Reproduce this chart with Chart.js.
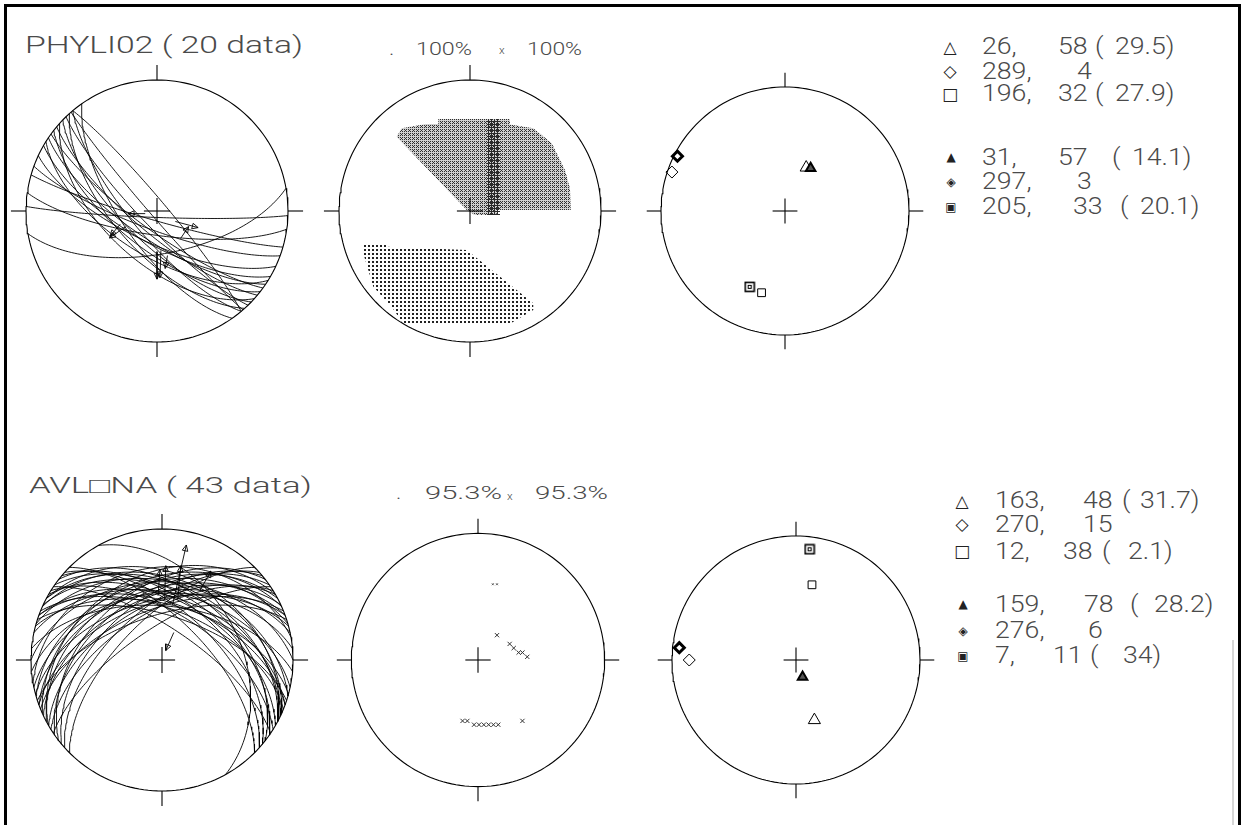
<!DOCTYPE html>
<html lang="en">
<head>
<meta charset="UTF-8" />
<title>Fault slip data - PHYLI02 / AVLONA</title>
<script src="https://cdn.jsdelivr.net/npm/chart.js"></script>
<style>
  * { box-sizing: border-box; }
  body {
    margin: 0;
    width: 1248px;
    height: 825px;
    background: #fff;
    position: relative;
    overflow: hidden;
    font-family: Roboto, 'DejaVu Sans', sans-serif;
  }
  .frame {
    position: absolute;
    left: 4px;
    top: 4px;
    width: 1237px;
    height: 900px;
    border: 3px solid #000;
    border-bottom: none;
  }
  .net { position: absolute; width: 300px; height: 300px; }
  .lbl {
    position: absolute;
    white-space: pre;
    color: #4a4a4a;
    font-weight: 300;
    line-height: 1;
    transform-origin: 0 50%;
  }
  .mk {
    position: absolute;
    line-height: 1;
    color: #222;
    font-family: 'DejaVu Sans', sans-serif;
    transform: translate(-50%, -50%);
  }
  .scan { position: absolute; left: 1232px; top: 640px; width: 2px; height: 185px; background: #d6d6d6; }
</style>
</head>
<body>
<div class="frame"></div>
<div class="scan"></div>

<script>
  // ---------- PHYLI02 ----------
  const phyName = 'PHYLI02';
  // fault planes: [dip direction, dip]
  const phyPlanes = [
    [214, 72], [218, 66], [220, 76], [224, 70], [226, 80], [212, 62], [230, 74],
    [216, 78], [228, 64], [210, 70], [222, 58], [229, 86], [182, 86], [196, 84],
    [200, 78], [170, 63], [205, 70], [188, 75], [50, 84], [235, 68]
  ];
  // slip arrows: [u, v, azimuth, length] in net units
  const phyArrows = [
    [-0.09, -0.02, 270, 0.13], [-0.24, -0.12, 235, 0.15], [-0.28, -0.10, 220, 0.12],
    [0.14, -0.08, 105, 0.18], [0.18, -0.21, 34, 0.11], [0.00, -0.31, 180, 0.21],
    [0.03, -0.30, 182, 0.21], [0.08, -0.34, 190, 0.10]
  ];
  const phyPct = [100, 100];
  // compatible areas (outlines in net units)
  const phyTArea = [
    [-0.242, 0.702], [0.305, 0.702], [0.305, 0.66], [0.483, 0.631], [0.624, 0.517],
    [0.725, 0.313], [0.763, 0.173], [0.769, 0.008], [0.204, 0.008], [0.204, -0.031],
    [0.038, -0.031], [-0.025, 0.008], [-0.560, 0.567], [-0.521, 0.631], [-0.336, 0.664],
    [-0.242, 0.664], [-0.242, 0.702]
  ];
  const phyTCore = [[0.130, 0.702], [0.229, 0.702], [0.229, -0.031], [0.130, -0.031], [0.130, 0.702]];
  const phyPArea = [
    [-0.827, -0.247], [-0.636, -0.247], [-0.636, -0.273], [-0.025, -0.298], [0.483, -0.705],
    [0.483, -0.756], [0.305, -0.860], [-0.509, -0.860], [-0.598, -0.731], [-0.738, -0.578],
    [-0.815, -0.323], [-0.827, -0.247]
  ];
  // axes: [trend, plunge] and value
  const phyAxes = [[26, 58], [289, 4], [196, 32]];
  const phyAxesVal = [29.5, null, 27.9];
  const phyMeans = [[31, 57], [297, 3], [205, 33]];
  const phyMeansVal = [14.1, null, 20.1];

  // ---------- AVLONA ----------
  const avlName = 'AVL\u25A1NA';
  const avlPlanes = [
    [335, 50], [340, 45], [330, 55], [345, 52], [325, 48], [338, 58], [332, 42], [342, 62],
    [328, 60], [336, 38], [320, 52], [348, 47], [326, 70], [322, 44], [340, 54], [318, 58],
    [344, 40], [330, 35], [315, 64],
    [20, 50], [25, 45], [15, 55], [30, 52], [35, 48], [22, 58], [28, 42], [18, 62],
    [32, 60], [24, 38], [40, 52], [12, 47], [34, 70], [38, 44], [20, 54], [42, 58],
    [16, 40], [28, 35], [45, 64],
    [0, 40], [355, 48], [5, 56], [61, 40], [350, 30]
  ];
  const avlArrows = [
    [0.08, 0.42, 13, 0.47], [0.02, 0.46, 2, 0.26], [0.12, 0.46, 5, 0.26],
    [0.29, 0.53, 29, 0.17], [0.09, 0.21, 204, 0.15], [-0.03, 0.49, 4, 0.20]
  ];
  const avlPct = [95.3, 95.3];
  const avlTPts = [
    [0.150, 0.196], [0.250, 0.127], [0.282, 0.094], [0.321, 0.059], [0.351, 0.059],
    [0.389, 0.025], [0.351, -0.481], [-0.122, -0.481], [-0.084, -0.481], [-0.031, -0.511],
    [0.008, -0.511], [0.046, -0.511], [0.084, -0.511], [0.122, -0.511], [0.160, -0.511]
  ];
  const avlTSmall = [[0.117, 0.598], [0.150, 0.598]];
  const avlAxes = [[163, 48], [270, 15], [12, 38]];
  const avlAxesVal = [31.7, null, 2.1];
  const avlMeans = [[159, 78], [276, 6], [7, 11]];
  const avlMeansVal = [28.2, null, 34];

  // ---------- layout ----------
  const D2R = Math.PI / 180;
  const R = 131;
  const HALF = 150 / R;
  const LS = 1.16;   // horizontal stretch of the plotter lettering

  function proj(trend, plunge) {
    const rho = Math.SQRT2 * Math.sin((90 - plunge) * D2R / 2);
    return { x: rho * Math.sin(trend * D2R), y: rho * Math.cos(trend * D2R) };
  }

  function greatCircle(dd, dip) {
    const s = (dd - 90) * D2R, d = dd * D2R, dp = dip * D2R;
    const sv = [Math.cos(s), Math.sin(s), 0];
    const dv = [Math.cos(dp) * Math.cos(d), Math.cos(dp) * Math.sin(d), Math.sin(dp)];
    const pts = [];
    for (let a = 0; a <= 180; a += 2) {
      const ca = Math.cos(a * D2R), sa = Math.sin(a * D2R);
      const n = ca * sv[0] + sa * dv[0];
      const e = ca * sv[1] + sa * dv[1];
      const z = sa * dv[2];
      pts.push(proj(Math.atan2(e, n) / D2R, Math.asin(Math.min(1, z)) / D2R));
    }
    return pts;
  }

  const ink = { borderColor: '#000', borderWidth: 1.1, pointRadius: 0, fill: false };

  function frameSets() {
    const circ = [];
    for (let a = 0; a <= 360; a += 2) circ.push({ x: Math.sin(a * D2R), y: Math.cos(a * D2R) });
    const T = 1.115, C = 0.1;
    const seg = (x1, y1, x2, y2) => ({ data: [{ x: x1, y: y1 }, { x: x2, y: y2 }], ...ink });
    return [
      { data: circ, ...ink },
      seg(0, 1, 0, T), seg(0, -1, 0, -T), seg(1, 0, T, 0), seg(-1, 0, -T, 0),
      seg(-C, 0, C, 0), seg(0, -C, 0, C)
    ];
  }

  function arrowSet([u, v, az, len]) {
    const a = az * D2R, h = 0.05;
    const tip = { x: u + len * Math.sin(a), y: v + len * Math.cos(a) };
    const b1 = { x: tip.x - h * Math.sin(a + 0.45), y: tip.y - h * Math.cos(a + 0.45) };
    const b2 = { x: tip.x - h * Math.sin(a - 0.45), y: tip.y - h * Math.cos(a - 0.45) };
    return { data: [{ x: u, y: v }, tip, b1, b2, tip], ...ink, borderWidth: 0.9 };
  }

  function planeSets(planes) {
    return planes.map(([dd, dip]) => ({ data: greatCircle(dd, dip), ...ink, borderWidth: 0.9 }));
  }

  function pattern(size, draw) {
    const c = document.createElement('canvas');
    c.width = c.height = size;
    const g = c.getContext('2d');
    draw(g);
    return g.createPattern(c, 'repeat');
  }
  const crossFill = pattern(4, g => {
    g.fillStyle = '#cfcfcf';
    g.fillRect(0, 0, 4, 4);
    g.fillStyle = '#2e2e2e';
    [[0, 0], [2, 0], [1, 1], [0, 2], [2, 2]].forEach(([x, y]) => g.fillRect(x, y, 1, 1));
  });
  const coreFill = pattern(3, g => {
    g.fillStyle = '#2a2a2a';
    g.fillRect(0, 0, 3, 1);
    g.fillRect(0, 0, 1, 3);
  });
  const dotFill = pattern(4, g => {
    g.fillStyle = '#222';
    g.fillRect(0, 0, 2, 2);
  });

  const area = (pts, fillStyle) => ({
    data: pts.map(([x, y]) => ({ x, y })),
    borderWidth: 0, borderColor: 'rgba(0,0,0,0)', pointRadius: 0,
    backgroundColor: fillStyle, fill: 'shape'
  });

  function squareMark() {
    const c = document.createElement('canvas');
    c.width = c.height = 12;
    const g = c.getContext('2d');
    g.fillStyle = '#fff'; g.fillRect(1, 1, 10, 10);
    g.strokeStyle = '#000'; g.lineWidth = 1.6; g.strokeRect(1.5, 1.5, 9, 9);
    g.lineWidth = 1; g.strokeRect(4.5, 4.5, 3, 3);
    return c;
  }

  function axisSets(axes, means) {
    const styles = [
      ['triangle', 7, '#fff', 1], ['rectRot', 6, '#fff', 1], ['rect', 5.5, '#fff', 1]
    ];
    const filled = [
      ['triangle', 5.5, '#555', 2], ['rectRot', 5, '#fff', 3], [squareMark(), 6, '#fff', 1]
    ];
    const out = [];
    means.forEach((m, i) => {
      const [ps, r, bg, bw] = filled[i];
      out.push({ data: [proj(m[0], m[1])], showLine: false, pointStyle: ps, pointRadius: r,
        pointBackgroundColor: bg, pointBorderColor: '#000', pointBorderWidth: bw });
    });
    axes.forEach((a, i) => {
      const [ps, r, bg, bw] = styles[i];
      out.push({ data: [proj(a[0], a[1])], showLine: false, pointStyle: ps, pointRadius: r,
        pointBackgroundColor: bg, pointBorderColor: '#000', pointBorderWidth: bw });
    });
    return out;
  }

  function makeNet(cx, cy, sets) {
    const box = document.createElement('div');
    box.className = 'net';
    box.style.left = (cx - 150) + 'px';
    box.style.top = (cy - 150) + 'px';
    const cv = document.createElement('canvas');
    box.appendChild(cv);
    document.body.appendChild(box);
    new Chart(cv, {
      type: 'line',
      data: { datasets: [...frameSets(), ...sets] },
      options: {
        responsive: true,
        maintainAspectRatio: false,
        animation: false,
        events: [],
        layout: { padding: 0 },
        plugins: { legend: { display: false }, tooltip: { enabled: false } },
        scales: {
          x: { type: 'linear', min: -HALF, max: HALF, display: false },
          y: { type: 'linear', min: -HALF, max: HALF, display: false }
        },
        elements: { line: { tension: 0 } }
      }
    });
  }

  // ---------- nets ----------
  makeNet(157, 211, [...phyArrows.map(arrowSet), ...planeSets(phyPlanes)]);
  makeNet(470, 211, [area(phyTCore, coreFill), area(phyTArea, crossFill), area(phyPArea, dotFill)]);
  makeNet(785, 211, axisSets(phyAxes, phyMeans));

  makeNet(162, 660, [...avlArrows.map(arrowSet), ...planeSets(avlPlanes)]);
  makeNet(478, 660, [
    { data: avlTPts.map(([x, y]) => ({ x, y })), showLine: false, pointStyle: 'crossRot',
      pointRadius: 3, pointBorderColor: '#333', pointBorderWidth: 1 },
    { data: avlTSmall.map(([x, y]) => ({ x, y })), showLine: false, pointStyle: 'crossRot',
      pointRadius: 1.3, pointBorderColor: '#555', pointBorderWidth: 1 }
  ]);
  makeNet(796, 660, axisSets(avlAxes, avlMeans));

  // ---------- lettering ----------
  const fits = [];
  function label(text, left, cy, size, width) {
    const el = document.createElement('div');
    el.className = 'lbl';
    el.textContent = text;
    el.style.left = left + 'px';
    el.style.top = (cy - size / 2) + 'px';
    el.style.fontSize = size + 'px';
    document.body.appendChild(el);
    if (width) fits.push([el, width]);
    else el.style.transform = `scaleX(${LS})`;
    return el;
  }
  function marker(ch, x, cy, size) {
    const el = document.createElement('div');
    el.className = 'mk';
    el.textContent = ch;
    el.style.left = x + 'px';
    el.style.top = cy + 'px';
    el.style.fontSize = size + 'px';
    document.body.appendChild(el);
  }

  label(`${phyName} ( ${phyPlanes.length} data)`, 25, 45.5, 23, 278);
  label('.', 389, 48.5, 19);
  label(`${phyPct[0]}%`, 416, 48.5, 19, 56);
  label('x', 499, 50.5, 10);
  label(`${phyPct[1]}%`, 527, 48.5, 19, 55);

  label(`${avlName} ( ${avlPlanes.length} data)`, 29, 486, 22, 283);
  label('.', 396, 492, 19);
  label(`${avlPct[0]}%`, 425, 492, 19, 77);
  label('x', 507, 497, 10);
  label(`${avlPct[1]}%`, 535, 492, 19, 73);

  // legend rows: value arrays above, positions here
  const openGlyphs = ['\u25B3', '\u25C7', '\u25A1'];
  const fillGlyphs = ['\u25B2', '\u25C8', '\u25A3'];
  function legendBlock(axes, vals, glyphs, gsize, mx, rows) {
    axes.forEach((a, i) => {
      const [cy, xa, xb, xp, xv] = rows[i];
      marker(glyphs[i], mx, cy, gsize);
      label(`${a[0]},`, xa, cy, 23);
      label(`${a[1]}`, xb, cy, 23);
      if (vals[i] !== null) {
        label('(', xp, cy, 23);
        label(`${vals[i]})`, xv, cy, 23);
      }
    });
  }
  legendBlock(phyAxes, phyAxesVal, openGlyphs, 17, 950,
    [[46.5, 982, 1058, 1095, 1115], [71, 982, 1077], [93.5, 982, 1058, 1095, 1115]]);
  legendBlock(phyMeans, phyMeansVal, fillGlyphs, 12, 951,
    [[157, 982, 1058, 1112, 1132], [181.5, 982, 1077], [206.5, 982, 1073, 1120, 1140]]);
  legendBlock(avlAxes, avlAxesVal, openGlyphs, 17, 962,
    [[500.5, 995, 1083, 1122, 1140], [524, 995, 1083], [551, 995, 1063, 1102, 1128]]);
  legendBlock(avlMeans, avlMeansVal, fillGlyphs, 12, 963,
    [[604, 995, 1084, 1130, 1154], [630.5, 995, 1088], [655.5, 995, 1053, 1090, 1123]]);

  function fitAll() {
    fits.forEach(([el, w]) => {
      el.style.transform = 'none';
      const n = el.getBoundingClientRect().width;
      el.style.transform = `scaleX(${w / n})`;
    });
  }
  fitAll();
  if (document.fonts) document.fonts.ready.then(fitAll);
</script>
</body>
</html>
